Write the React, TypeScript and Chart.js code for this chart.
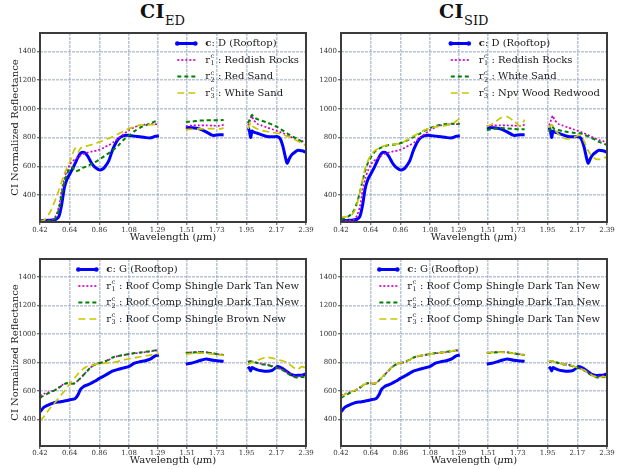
import React, { useEffect, useRef } from 'react';
import { Chart, registerables } from 'chart.js';

Chart.register(...registerables);

// ---------------- DATA ----------------
// wavelength samples (µm); null values in the series mark the water-absorption gaps
const WAVELENGTHS = [
  0.42, 0.45, 0.48, 0.50, 0.52, 0.54, 0.56, 0.58, 0.60, 0.62,
  0.64, 0.66, 0.68, 0.70, 0.72, 0.74, 0.76, 0.78, 0.80, 0.82,
  0.84, 0.86, 0.88, 0.90, 0.93, 0.96, 1.00, 1.04, 1.08, 1.12,
  1.16, 1.20, 1.24, 1.27, 1.30,
  1.40,
  1.50, 1.55, 1.60, 1.65, 1.70, 1.75, 1.78,
  1.87,
  1.96, 1.97, 1.98, 1.99, 2.00, 2.03, 2.06, 2.10, 2.14, 2.18,
  2.20, 2.22, 2.25, 2.27, 2.29, 2.31, 2.33, 2.36, 2.39,
];

const X_TICK_LABELS = ['0.42', '0.64', '0.86', '1.08', '1.29', '1.51', '1.73', '1.95', '2.17', '2.39'];
const Y_TICKS = [400, 600, 800, 1000, 1200, 1400];
const X_MIN = 0.42;
const X_MAX = 2.39;
const Y_MIN = 212;
const Y_MAX = 1528;

// Rooftop D
const ROOFTOP_D = [
  220, 222, 224, 225, 227, 232, 250, 330, 450, 510,
  545, 580, 620, 660, 690, 697, 688, 660, 625, 600,
  585, 575, 578, 595, 640, 720, 790, 813, 815, 810,
  805, 800, 798, 808, 812,
  null,
  870, 868, 860, 840, 815, 820, 818,
  null,
  870, 850, 800, 845, 840, 830, 820, 808, 805, 806,
  790, 735, 622, 660, 685, 700, 712, 708, 698,
];

const REDDISH_ROCKS = [
  218, 220, 222, 224, 232, 260, 320, 430, 515, 570,
  610, 635, 648, 662, 675, 685, 692, 698, 702, 706,
  710, 716, 724, 733, 748, 765, 795, 825, 852, 872,
  884, 890, 893, 893, 892,
  null,
  880, 884, 885, 885, 883, 882, 890,
  null,
  885, 905, 935, 952, 925, 895, 885, 870, 858, 845,
  838, 830, 818, 808, 798, 790, 783, 775, 768,
];

const RED_SAND = [
  215, 216, 218, 220, 225, 250, 300, 400, 490, 545,
  585, 592, 565, 570, 578, 590, 598, 606, 615, 625,
  635, 648, 660, 673, 692, 712, 745, 785, 815, 845,
  868, 885, 900, 912, 920,
  null,
  910, 912, 918, 920, 920, 920, 922,
  null,
  900, 920, 940, 958, 945, 928, 918, 905, 890, 872,
  860, 848, 830, 818, 808, 798, 788, 772, 760,
];

const WHITE_SAND_ED = [
  215, 225, 260, 290, 335, 380, 435, 490, 545, 590,
  630, 680, 725, 695, 725, 735, 740, 745, 750, 755,
  762, 770, 776, 783, 795, 806, 825, 845, 862, 876,
  886, 890, 890, 890, 888,
  null,
  855, 858, 860, 862, 862, 860, 866,
  null,
  860, 880, 905, 890, 875, 860, 850, 842, 836, 830,
  826, 820, 810, 802, 795, 785, 775, 760, 745,
];

const WHITE_SAND_SID = [
  228, 240, 255, 270, 300, 350, 420, 500, 570, 625,
  660, 690, 710, 722, 732, 740, 745, 748, 750, 752,
  755, 760, 768, 776, 790, 805, 825, 848, 866, 880,
  890, 895, 896, 896, 895,
  null,
  852, 860, 866, 864, 860, 857, 858,
  null,
  840, 860, 880, 870, 860, 852, 845, 838, 834, 830,
  828, 820, 808, 800, 790, 780, 770, 760, 748,
];

const NPV_WOOD_REDWOOD = [
  245, 248, 252, 262, 290, 340, 420, 510, 590, 640,
  675, 700, 715, 725, 735, 742, 748, 750, 752, 754,
  756, 760, 768, 778, 795, 812, 832, 852, 866, 875,
  880, 885, 895, 912, 935,
  null,
  875, 900, 935, 945, 915, 880, 925,
  null,
  870, 880, 890, 880, 860, 825, 800, 790, 800, 815,
  810, 775, 710, 680, 660, 650, 648, 655, 665,
];

// Rooftop G
const ROOFTOP_G = [
  453, 485, 500, 508, 515, 520, 522, 525, 528, 532,
  537, 540, 545, 570, 610, 628, 638, 645, 655, 665,
  675, 688, 698, 708, 725, 740, 752, 762, 772, 795,
  805, 812, 825, 845, 852,
  null,
  788, 797, 812, 825, 815, 810, 808,
  null,
  770, 760, 740, 765, 760, 748, 742, 738, 745, 772,
  765, 755, 735, 720, 712, 708, 710, 710, 720,
];

const DARK_TAN_NEW_A = [
  567, 580, 590, 597, 602, 612, 625, 638, 650, 655,
  654, 650, 655, 672, 690, 710, 730, 750, 768, 782,
  790, 796, 800, 805, 818, 835, 845, 852, 858, 864,
  868, 873, 878, 883, 886,
  null,
  868, 872, 874, 872, 864, 857, 853,
  null,
  805, 808, 810, 808, 805, 798, 790, 785, 775, 762,
  755, 748, 730, 718, 708, 702, 700, 705, 702,
];

const DARK_TAN_NEW_B = [
  550, 568, 582, 592, 600, 610, 622, 636, 648, 654,
  653, 650, 655, 672, 690, 710, 730, 750, 768, 782,
  790, 796, 800, 806, 820, 836, 846, 853, 859, 866,
  870, 875, 880, 885, 888,
  null,
  866, 870, 873, 871, 863, 856, 852,
  null,
  803, 806, 808, 806, 803, 796, 788, 782, 772, 760,
  752, 745, 726, 712, 702, 696, 692, 698, 695,
];

const BROWN_NEW = [
  388, 420, 460, 485, 505, 528, 552, 575, 598, 625,
  648, 672, 695, 718, 738, 755, 768, 775, 780, 785,
  788, 790, 792, 795, 798, 800, 808, 818, 826, 832,
  840, 846, 852, 858, 862,
  null,
  858, 863, 866, 864, 858, 853, 850,
  null,
  785, 790, 795, 800, 805, 815, 826, 836, 830, 820,
  815, 810, 800, 785, 770, 758, 752, 770, 760,
];

const DARK_TAN_NEW_C = [
  560, 577, 589, 596, 602, 612, 624, 637, 649, 655,
  655, 651, 656, 673, 692, 712, 732, 752, 770, 783,
  791, 797, 801, 806, 819, 836, 846, 853, 859, 865,
  869, 874, 879, 884, 887,
  null,
  867, 871, 873, 871, 863, 856, 852,
  null,
  806, 809, 811, 808, 804, 797, 789, 784, 774, 761,
  754, 747, 728, 715, 704, 698, 694, 700, 698,
];

// ---------------- STYLE ----------------
const FONT = "'DejaVu Serif', serif";

const SERIES_STYLES = [
  { color: '#0000ff', width: 3, dash: [] as number[] },
  { color: '#d000d0', width: 1.7, dash: [2, 2] },
  { color: '#008000', width: 2, dash: [4, 3] },
  { color: '#c8c800', width: 1.7, dash: [7, 4] },
];

type LegendEntry = { kind: 'c' | 'r'; idx?: number; label: string };

type PanelSpec = {
  left: number;
  top: number;
  width: number;
  height: number;
  padTop: number;
  padRight: number;
  yWidth: number;
  xHeight: number;
  tickPad: number;
  yTitle: boolean;
  series: (number | null)[][];
  legend: LegendEntry[];
};

function makeDecorPlugin(entries: LegendEntry[]) {
  return {
    id: 'panelDecor',
    afterDraw(chart: any) {
      const { ctx, chartArea } = chart;
      ctx.save();
      // frame
      ctx.setLineDash([]);
      ctx.strokeStyle = '#3c3c3c';
      ctx.lineWidth = 2;
      ctx.strokeRect(chartArea.left, chartArea.top, chartArea.right - chartArea.left, chartArea.bottom - chartArea.top);

      // x-axis title with italic mu
      const tFont = `10px ${FONT}`;
      const iFont = `italic 10px ${FONT}`;
      const parts: [string, string][] = [
        ['Wavelength (', tFont],
        ['μ', iFont],
        ['m)', tFont],
      ];
      let total = 0;
      parts.forEach(([t, f]) => {
        ctx.font = f;
        total += ctx.measureText(t).width;
      });
      let tx = (chartArea.left + chartArea.right) / 2 - total / 2;
      const ty = chart.height - 8.5;
      ctx.fillStyle = '#1a1a1a';
      ctx.textBaseline = 'middle';
      ctx.textAlign = 'left';
      parts.forEach(([t, f]) => {
        ctx.font = f;
        ctx.fillText(t, tx, ty);
        tx += ctx.measureText(t).width;
      });

      // legend
      const main = `10px ${FONT}`;
      const bold = `bold 10px ${FONT}`;
      const small = `6.5px ${FONT}`;
      const measure = (font: string, t: string) => {
        ctx.font = font;
        return ctx.measureText(t).width;
      };
      const widthOf = (e: LegendEntry) => {
        if (e.kind === 'c') return measure(bold, 'c') + measure(main, ': ' + e.label);
        const sw = Math.max(measure(small, 'c'), measure(small, String(e.idx)));
        return measure(main, 'r') + sw + 0.5 + measure(main, ' : ' + e.label);
      };
      const maxW = Math.max(...entries.map(widthOf));
      const textLeft = chartArea.right - 7 - maxW;
      const lineX1 = textLeft - 28;
      const lineX2 = lineX1 + 18;
      entries.forEach((e, i) => {
        const y = chartArea.top + 10.5 + i * 16.5;
        const st = SERIES_STYLES[i];
        ctx.beginPath();
        ctx.setLineDash(st.dash);
        ctx.strokeStyle = st.color;
        ctx.lineWidth = st.width;
        ctx.moveTo(lineX1, y);
        ctx.lineTo(lineX2, y);
        ctx.stroke();
        ctx.setLineDash([]);
        if (e.kind === 'c') {
          ctx.fillStyle = st.color;
          [lineX1, lineX2].forEach((px) => {
            ctx.beginPath();
            ctx.arc(px, y, 2.3, 0, Math.PI * 2);
            ctx.fill();
          });
        }
        ctx.fillStyle = '#1a1a1a';
        let x = textLeft;
        if (e.kind === 'c') {
          ctx.font = bold;
          ctx.fillText('c', x, y);
          x += ctx.measureText('c').width;
          ctx.font = main;
          ctx.fillText(': ' + e.label, x, y);
        } else {
          ctx.font = main;
          ctx.fillText('r', x, y);
          x += ctx.measureText('r').width;
          ctx.font = small;
          ctx.fillText('c', x + 0.3, y - 3.5);
          ctx.fillText(String(e.idx), x + 0.3, y + 3.5);
          const sw = Math.max(ctx.measureText('c').width, ctx.measureText(String(e.idx)).width);
          x += sw + 0.5;
          ctx.font = main;
          ctx.fillText(' : ' + e.label, x, y);
        }
      });
      ctx.restore();
    },
  };
}

function Panel(p: PanelSpec) {
  const ref = useRef<HTMLCanvasElement | null>(null);
  useEffect(() => {
    if (!ref.current) return;
    const gridStyle = {
      color: 'rgba(140,158,185,0.6)',
      lineWidth: 1.5,
      drawTicks: true,
      tickLength: 3,
      tickColor: '#444',
      tickWidth: 1,
    };
    const datasets = p.series.map((vals, i) => ({
      label: p.legend[i].label,
      data: WAVELENGTHS.map((w, j) => ({ x: w, y: vals[j] })),
      borderColor: SERIES_STYLES[i].color,
      backgroundColor: SERIES_STYLES[i].color,
      borderWidth: SERIES_STYLES[i].width,
      borderDash: SERIES_STYLES[i].dash,
      pointRadius: 0,
      tension: 0.25,
      spanGaps: false,
      order: 3 - i,
    }));
    const chart = new Chart(ref.current, {
      type: 'line',
      data: { datasets },
      options: {
        animation: false,
        responsive: false,
        maintainAspectRatio: false,
        events: [],
        layout: { autoPadding: false, padding: { top: p.padTop, right: p.padRight, left: 0, bottom: 0 } },
        plugins: { legend: { display: false }, tooltip: { enabled: false }, title: { display: false } },
        scales: {
          x: {
            type: 'linear',
            min: X_MIN,
            max: X_MAX,
            afterBuildTicks: (s: any) => {
              s.ticks = X_TICK_LABELS.map((l) => ({ value: parseFloat(l) }));
            },
            afterFit: (s: any) => {
              s.height = p.xHeight;
            },
            ticks: {
              autoSkip: false,
              maxRotation: 0,
              padding: p.tickPad,
              color: '#333',
              font: { family: FONT, size: 7 },
              callback: (_v: any, i: number) => X_TICK_LABELS[i],
            },
            grid: gridStyle,
            border: { display: false, dash: [3, 1] },
            title: { display: false },
          },
          y: {
            type: 'linear',
            min: Y_MIN,
            max: Y_MAX,
            afterBuildTicks: (s: any) => {
              s.ticks = Y_TICKS.map((v) => ({ value: v }));
            },
            afterFit: (s: any) => {
              s.width = p.yWidth;
            },
            ticks: {
              padding: 1,
              color: '#333',
              font: { family: FONT, size: 7 },
              callback: (v: any) => String(v),
            },
            grid: gridStyle,
            border: { display: false, dash: [3, 1] },
            title: {
              display: p.yTitle,
              text: 'CI Normalized Reflectance',
              color: '#1a1a1a',
              font: { family: FONT, size: 10 },
              padding: { top: 9, bottom: 0 },
            },
          },
        },
      },
      plugins: [makeDecorPlugin(p.legend)],
    } as any);
    return () => chart.destroy();
  }, []);
  return (
    <canvas
      ref={ref}
      width={p.width}
      height={p.height}
      style={{ position: 'absolute', left: p.left, top: p.top, width: p.width, height: p.height }}
    />
  );
}

function Title({ left, main, sub }: { left: number; main: string; sub: string }) {
  return (
    <div
      style={{
        position: 'absolute',
        left,
        top: 2,
        font: `bold 19px ${FONT}`,
        lineHeight: '19px',
        letterSpacing: '0.5px',
        color: '#111',
        whiteSpace: 'nowrap',
      }}
    >
      {main}
      <span style={{ fontWeight: 'normal', fontSize: 13, verticalAlign: '-7px', letterSpacing: 0 }}>{sub}</span>
    </div>
  );
}

export default function App() {
  const legendTL: LegendEntry[] = [
    { kind: 'c', label: 'D (Rooftop)' },
    { kind: 'r', idx: 1, label: 'Reddish Rocks' },
    { kind: 'r', idx: 2, label: 'Red Sand' },
    { kind: 'r', idx: 3, label: 'White Sand' },
  ];
  const legendTR: LegendEntry[] = [
    { kind: 'c', label: 'D (Rooftop)' },
    { kind: 'r', idx: 1, label: 'Reddish Rocks' },
    { kind: 'r', idx: 2, label: 'White Sand' },
    { kind: 'r', idx: 3, label: 'Npv Wood Redwood' },
  ];
  const legendBL: LegendEntry[] = [
    { kind: 'c', label: 'G (Rooftop)' },
    { kind: 'r', idx: 1, label: 'Roof Comp Shingle Dark Tan New' },
    { kind: 'r', idx: 2, label: 'Roof Comp Shingle Dark Tan New' },
    { kind: 'r', idx: 3, label: 'Roof Comp Shingle Brown New' },
  ];
  const legendBR: LegendEntry[] = [
    { kind: 'c', label: 'G (Rooftop)' },
    { kind: 'r', idx: 1, label: 'Roof Comp Shingle Dark Tan New' },
    { kind: 'r', idx: 2, label: 'Roof Comp Shingle Dark Tan New' },
    { kind: 'r', idx: 3, label: 'Roof Comp Shingle Dark Tan New' },
  ];
  return (
    <div style={{ position: 'absolute', left: 0, top: 0, width: 622, height: 469, background: '#fff', overflow: 'hidden' }}>
      <Title left={140} main="CI" sub="ED" />
      <Title left={439} main="CI" sub="SID" />
      <Panel left={0} top={0} width={320} height={246} padTop={33} padRight={14} yWidth={40} xHeight={24} tickPad={1} yTitle
        series={[ROOFTOP_D, REDDISH_ROCKS, RED_SAND, WHITE_SAND_ED]} legend={legendTL} />
      <Panel left={311} top={0} width={311} height={246} padTop={33} padRight={15} yWidth={30} xHeight={24} tickPad={1} yTitle={false}
        series={[ROOFTOP_D, REDDISH_ROCKS, WHITE_SAND_SID, NPV_WOOD_REDWOOD]} legend={legendTR} />
      <Panel left={0} top={246} width={320} height={223} padTop={13} padRight={14} yWidth={40} xHeight={23} tickPad={0} yTitle
        series={[ROOFTOP_G, DARK_TAN_NEW_A, DARK_TAN_NEW_B, BROWN_NEW]} legend={legendBL} />
      <Panel left={311} top={246} width={311} height={223} padTop={13} padRight={15} yWidth={30} xHeight={23} tickPad={0} yTitle={false}
        series={[ROOFTOP_G, DARK_TAN_NEW_A, DARK_TAN_NEW_B, DARK_TAN_NEW_C]} legend={legendBR} />
    </div>
  );
}
